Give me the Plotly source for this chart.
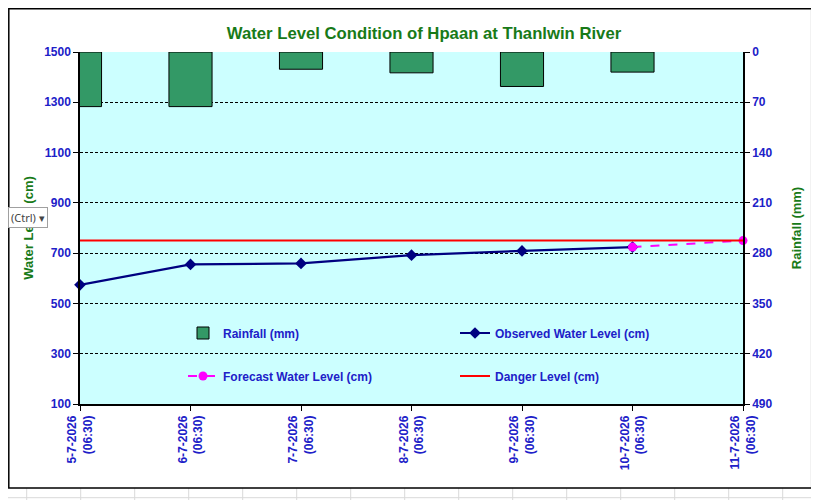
import plotly.graph_objects as go

# ---- data ----
dates = ['5-7-2026', '6-7-2026', '7-7-2026', '8-7-2026', '9-7-2026', '10-7-2026', '11-7-2026']
obs_time = '(06:30)'
rainfall_mm = [76, 76, 24, 29, 48, 28]
observed_cm = [574, 655, 659, 692, 709, 724]
forecast_cm = [None, None, None, None, None, 724, 750]
danger_cm = [750, 750, 750, 750, 750, 750, 750]

level_ticks = [100, 300, 500, 700, 900, 1100, 1300, 1500]
rain_ticks = [0, 70, 140, 210, 280, 350, 420, 490]

BLUE = '#2020c8'
GREEN = '#187a18'
FONT = 'Liberation Sans, Arial, sans-serif'

x_idx = list(range(len(dates)))
tick_text = [f'{d}<br>{obs_time}' for d in dates]

# the page has an 8px body margin, so the figure is sized to fill the rest
OFF = 8
W, H = 819 - OFF, 500 - OFF
L, R, T, B = 72, 76, 44, 96


# page pixel -> paper coordinates (for sheet decoration round the chart)
def px(x):
    return (x - OFF - L) / (W - L - R)


def py(y):
    return (H - B - (y - OFF)) / (H - T - B)


fig = go.Figure()

fig.add_trace(go.Bar(
    x=x_idx[:len(rainfall_mm)], y=rainfall_mm, yaxis='y2',
    name='Rainfall (mm)', width=0.39,
    marker=dict(color='#339966', line=dict(color='black', width=1)),
    legend='legend',
))
fig.add_trace(go.Scatter(
    x=x_idx[:len(observed_cm)], y=observed_cm, mode='lines+markers',
    name='Observed Water Level (cm)',
    line=dict(color='#000080', width=2.2),
    marker=dict(symbol='diamond', size=9, color='#000080'),
    cliponaxis=False, legend='legend',
))
fig.add_trace(go.Scatter(
    x=x_idx, y=forecast_cm, mode='lines+markers',
    name='Forecast Water Level (cm)',
    line=dict(color='#ff00ff', width=2, dash='dash'),
    marker=dict(symbol='circle', size=9, color='#ff00ff'),
    cliponaxis=False, legend='legend2',
))
fig.add_trace(go.Scatter(
    x=x_idx, y=danger_cm, mode='lines',
    name='Danger Level (cm)',
    line=dict(color='#ff0000', width=2),
    legend='legend2',
))

tick_font = dict(family=FONT, size=12, color=BLUE, weight='bold')
legend_common = dict(
    orientation='h', xanchor='left', yanchor='middle',
    entrywidth=227, entrywidthmode='pixels',
    bgcolor='rgba(0,0,0,0)', font=tick_font, itemwidth=30,
)

# Excel sheet grid + chart frame
shapes = []
grid = dict(type='line', xref='paper', yref='paper', layer='below',
            line=dict(color='#d9d9d9', width=1))
for k in range(15):
    gx = 26.7 + 54 * k
    shapes.append(dict(grid, x0=px(gx), x1=px(gx), y0=py(488), y1=py(500)))
for k in range(25):
    gy = 21.7 + 19.7 * k
    shapes.append(dict(grid, x0=px(812), x1=px(819), y0=py(gy), y1=py(gy)))
shapes.append(dict(grid, x0=px(0), x1=px(819), y0=py(497.7), y1=py(497.7)))
shapes.append(dict(type='rect', xref='paper', yref='paper', layer='below',
                   x0=px(8.8), x1=px(811.7), y0=py(8.8), y1=py(488),
                   line=dict(color='black', width=1.5)))

fig.update_layout(
    width=W, height=H,
    margin=dict(l=L, r=R, t=T, b=B),
    paper_bgcolor='white', plot_bgcolor='#ccffff',
    font=dict(family=FONT),
    title=dict(
        text='Water Level Condition of Hpaan at Thanlwin River',
        x=px(424), xref='paper', xanchor='center',
        y=1 - (33 - OFF) / H, yanchor='middle',
        font=dict(family=FONT, size=16.7, color=GREEN, weight='bold'),
    ),
    xaxis=dict(
        range=[0, 6], tickvals=x_idx, ticktext=tick_text, tickangle=-90,
        tickfont=tick_font, showgrid=False, zeroline=False,
        showline=True, linecolor='black', linewidth=1.5,
        ticks='outside', ticklen=5, tickcolor='black', automargin=False,
    ),
    yaxis=dict(
        range=[100, 1500], tickvals=level_ticks, tickfont=tick_font,
        showgrid=True, gridcolor='black', griddash='3px,2px', gridwidth=1,
        zeroline=False, showline=True, linecolor='black', linewidth=1.5,
        ticks='outside', ticklen=5, tickcolor='black', automargin=False,
        title=dict(text='Water Level (cm)', standoff=8,
                   font=dict(family=FONT, size=13, color=GREEN, weight='bold')),
    ),
    yaxis2=dict(
        overlaying='y', side='right', range=[490, 0], tickvals=rain_ticks,
        tickfont=tick_font, showgrid=False, zeroline=False,
        showline=True, linecolor='black', linewidth=1.5,
        ticks='outside', ticklen=5, tickcolor='black', automargin=False,
        title=dict(text='Rainfall (mm)', standoff=20,
                   font=dict(family=FONT, size=13, color=GREEN, weight='bold')),
    ),
    legend=dict(legend_common, x=px(183), y=py(333)),
    legend2=dict(legend_common, x=px(183), y=py(376)),
    shapes=shapes,
    annotations=[dict(
        text='(Ctrl) ▾', xref='paper', yref='paper',
        x=px(OFF), xanchor='left', y=py(217), yanchor='middle',
        showarrow=False, bgcolor='white', bordercolor='#a0a0a0', borderwidth=1,
        borderpad=2, font=dict(family='Noto Sans, sans-serif', size=11, color='#444444'),
    )],
)

fig.write_html('out.html')
